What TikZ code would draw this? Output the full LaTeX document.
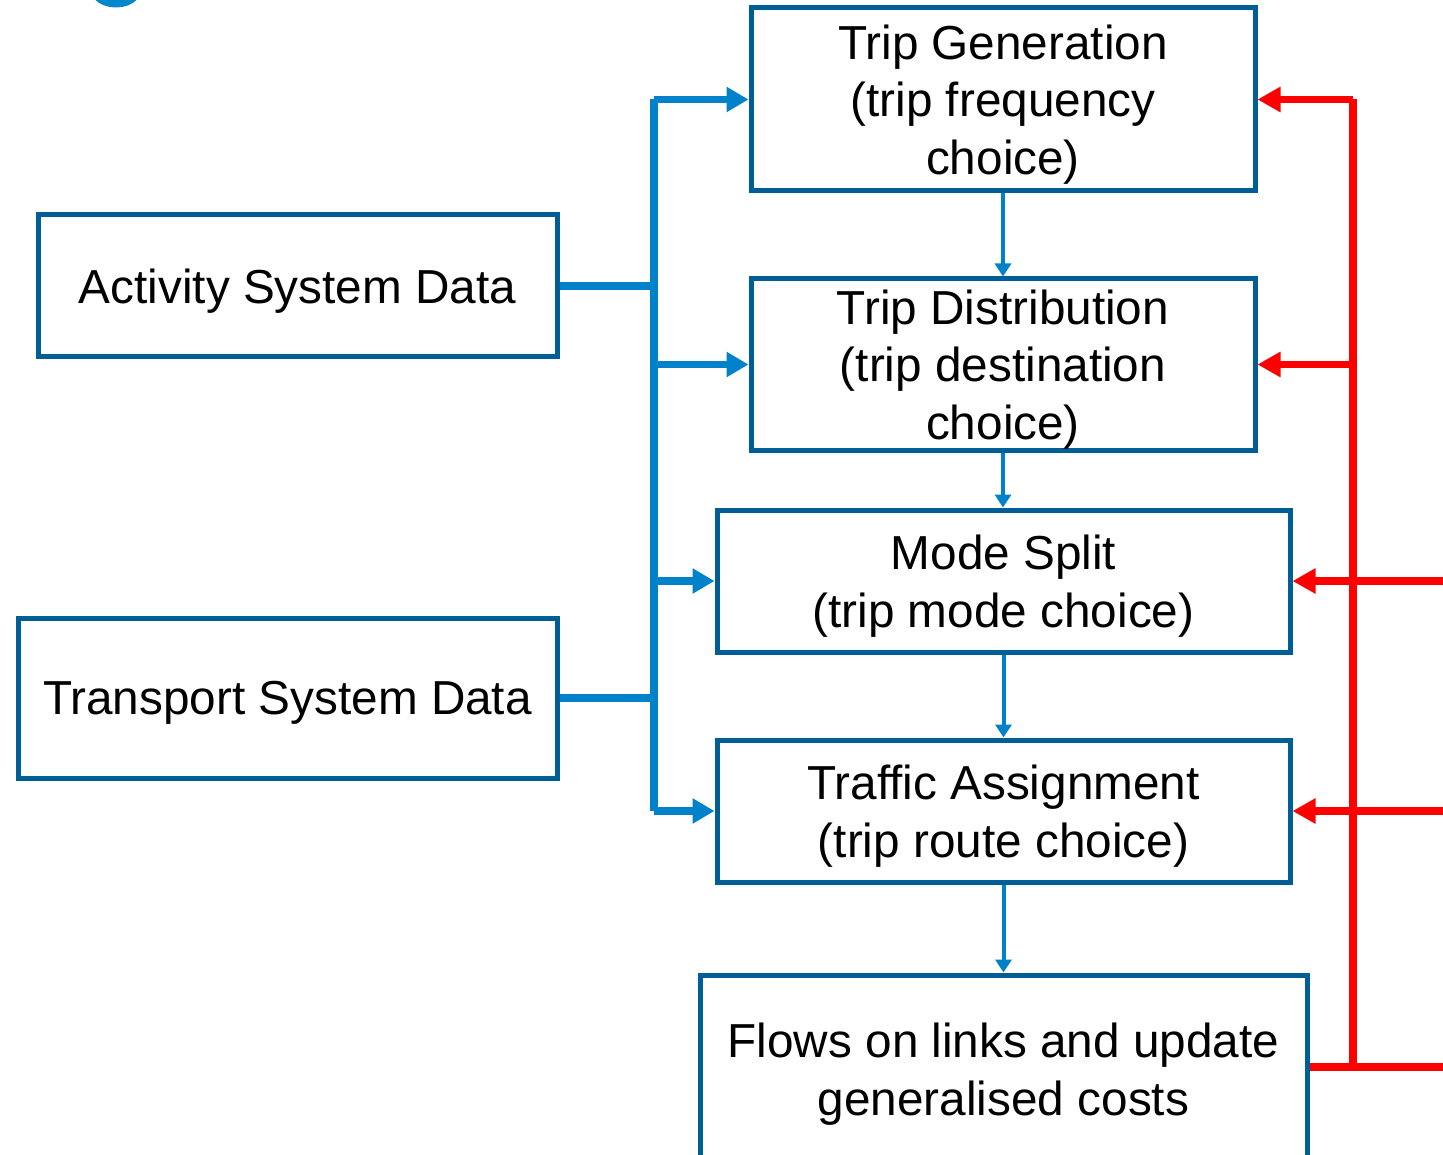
\documentclass[tikz,border=0pt]{standalone}
\usepackage{fontspec}
\setmainfont{Liberation Sans}
\usetikzlibrary{arrows.meta}
\definecolor{boxblue}{RGB}{0,94,150}
\definecolor{lineblue}{RGB}{0,130,202}
\definecolor{fragblue}{RGB}{0,136,204}
\definecolor{redline}{RGB}{255,0,0}
\begin{document}
\begin{tikzpicture}[x=1pt,y=-1pt,
  stagebox/.style={draw=boxblue,line width=5pt,rectangle,inner sep=0pt},
  stagetext/.style={inner sep=0pt,align=center,
    font=\fontsize{47.7}{57.5}\selectfont,text=black},
  bus/.style={draw=lineblue,line width=7.5pt,line join=round},
  busarrow/.style={draw=lineblue,line width=7.5pt,-{Triangle[length=22pt,width=24pt]}},
  thinarrow/.style={draw=lineblue,line width=4pt,-{Triangle[length=13pt,width=16pt]}},
  fb/.style={draw=redline,line width=7.5pt,line join=round},
  fbarrow/.style={draw=redline,line width=7.5pt,-{Triangle[length=23pt,width=24pt]}}]
\useasboundingbox (0,0) rectangle (1443,1155);
\clip (0,0) rectangle (1443,1155);
\fill[fragblue] (116,-10) ellipse[x radius=25pt,y radius=17.5pt];
\node[stagebox,minimum width=504pt,minimum height=183pt] (TG) at (1003,99.5) {};
\node[stagebox,minimum width=504pt,minimum height=171pt] (TD) at (1003,364.5) {};
\node[stagebox,minimum width=573pt,minimum height=142pt] (MS) at (1003.5,581) {};
\node[stagebox,minimum width=573pt,minimum height=142pt] (TA) at (1003.5,811) {};
\node[stagebox,minimum width=607pt,minimum height=190pt] (FL) at (1003.5,1070) {};
\node[stagebox,minimum width=519pt,minimum height=142pt] (ASD) at (297.5,286) {};
\node[stagebox,minimum width=539pt,minimum height=160pt] (TSD) at (287.5,698) {};
\node[stagetext] (TGt) at ([yshift=-5pt]TG.center) {Trip Generation\\(trip frequency\\choice)};
\node[stagetext] (TDt) at ([yshift=-5pt]TD.center) {Trip Distribution\\(trip destination\\choice)};
\node[stagetext] (MSt) at ([yshift=-5pt]MS.center) {Mode Split\\(trip mode choice)};
\node[stagetext] (TAt) at ([yshift=-5pt]TA.center) {Traffic Assignment\\(trip route choice)};
\node[stagetext] (FLt) at ([yshift=-4pt]FL.center) {Flows on links and update\\generalised costs};
\node[stagetext] (ASDt) at ([yshift=-5pt]ASD.center) {Activity System Data};
\node[stagetext] (TSDt) at ([yshift=-5pt]TSD.center) {Transport System Data};
% blue bus
\coordinate (bx) at (654,0);
\draw[bus] (bx |- TG.west) -- (bx |- TA.west);
\draw[bus] (ASD.east) -- (ASD.east -| bx);
\draw[bus] (TSD.east) -- (TSD.east -| bx);
\draw[busarrow] (bx |- TG.west) -- (TG.west);
\draw[busarrow] (bx |- TD.west) -- (TD.west);
\draw[busarrow] (bx |- MS.west) -- (MS.west);
\draw[busarrow] (bx |- TA.west) -- (TA.west);
% chain
\draw[thinarrow] (TG.south) -- (TD.north);
\draw[thinarrow] (TD.south) -- (TD.south |- MS.north);
\draw[thinarrow] (MS.south) -- (TA.north);
\draw[thinarrow] (TA.south) -- (FL.north);
% red feedback
\coordinate (rx) at (1353,0);
\coordinate (re) at (1443,0);
\coordinate (fo) at ([yshift=3pt]FL.east);
\draw[fb] (rx |- TG.east) -- (rx |- fo);
\draw[fb] (fo) -- (fo -| re);
\draw[fbarrow] (rx |- TG.east) -- (TG.east);
\draw[fbarrow] (rx |- TD.east) -- (TD.east);
\draw[fbarrow] (re |- MS.east) -- (MS.east);
\draw[fbarrow] (re |- TA.east) -- (TA.east);
\end{tikzpicture}
\end{document}
